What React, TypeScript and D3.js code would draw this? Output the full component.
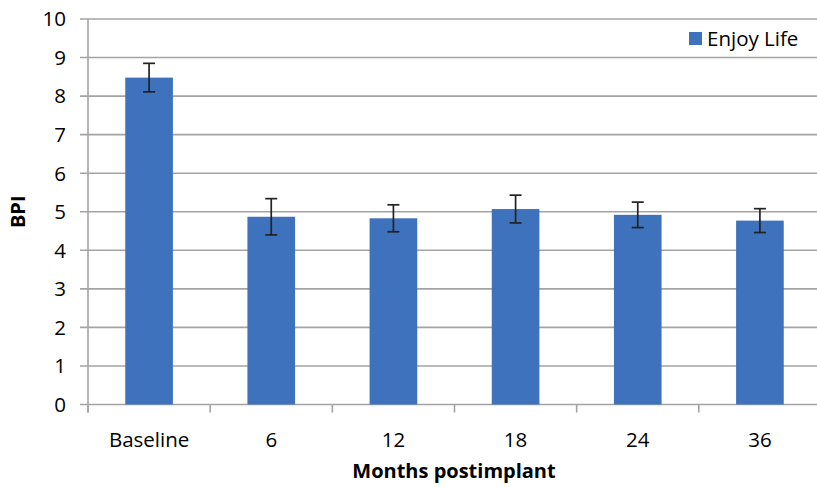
import React from 'react';
import * as d3 from 'd3';

const categories = ['Baseline', '6', '12', '18', '24', '36'];
const values = [8.48, 4.87, 4.83, 5.07, 4.92, 4.77];
const errors = [0.37, 0.47, 0.35, 0.36, 0.33, 0.31];
const yTicks = [0, 1, 2, 3, 4, 5, 6, 7, 8, 9, 10];
const seriesName = 'Enjoy Life';

const width = 817;
const height = 487;
const left = 88;
const right = 821;
const top = 19;
const bottom = 404.5;

const font = '"Open Sans", "Liberation Sans", sans-serif';
const barColor = '#3f72bd';
const gridColor = '#a3a3a3';

export default function App() {
  const x = d3.scaleBand<string>().domain(categories).range([left, right]).paddingInner(0.61).paddingOuter(0.305);
  const step = x.step();
  const y = d3.scaleLinear().domain([0, 10]).range([bottom, top]);

  return (
    <svg width={width} height={height} style={{ position: 'absolute', left: 0, top: 0, background: '#fff' }}>
      {/* gridlines + y ticks */}
      {yTicks.map(t => (
        <g key={t}>
          <line x1={left - 8} x2={width} y1={y(t)} y2={y(t)} stroke={gridColor} strokeWidth={1.6} />
          <text x={66} y={y(t)} dy="0.36em" textAnchor="end" fontFamily={font} fontSize={20.5} fill="#000">
            {t}
          </text>
        </g>
      ))}
      {/* y axis line */}
      <line x1={left} x2={left} y1={top} y2={bottom + 8} stroke={gridColor} strokeWidth={1.6} />
      {/* x ticks between categories */}
      {d3.range(categories.length + 1).map(i => (
        <line key={i} x1={left + i * step} x2={left + i * step} y1={bottom} y2={bottom + 8} stroke={gridColor} strokeWidth={1.6} />
      ))}
      {/* bars */}
      {categories.map((c, i) => (
        <rect key={c} x={x(c)} y={y(values[i])} width={x.bandwidth()} height={bottom - y(values[i])} fill={barColor} />
      ))}
      {/* error bars */}
      {categories.map((c, i) => {
        const cx = (x(c) as number) + x.bandwidth() / 2;
        const y1 = y(values[i] + errors[i]);
        const y2 = y(values[i] - errors[i]);
        return (
          <g key={'e' + c} stroke="#222" strokeWidth={1.7}>
            <line x1={cx} x2={cx} y1={y1} y2={y2} />
            <line x1={cx - 6} x2={cx + 6} y1={y1} y2={y1} />
            <line x1={cx - 6} x2={cx + 6} y1={y2} y2={y2} />
          </g>
        );
      })}
      {/* x labels */}
      {categories.map(c => (
        <text key={'l' + c} x={(x(c) as number) + x.bandwidth() / 2} y={447} textAnchor="middle" fontFamily={font} fontSize={20.5} fill="#000">
          {c}
        </text>
      ))}
      {/* axis titles */}
      <text x={454} y={478} textAnchor="middle" fontFamily={font} fontSize={20} fontWeight="bold" fill="#000">
        Months postimplant
      </text>
      <text transform={`translate(25, ${(top + bottom) / 2}) rotate(-90)`} textAnchor="middle" fontFamily={font} fontSize={20} fontWeight="bold" fill="#000">
        BPI
      </text>
      {/* legend */}
      <rect x={684} y={24} width={130} height={28} fill="#fff" />
      <rect x={689} y={32} width={13} height={13} fill={barColor} />
      <text x={707} y={38.5} dy="0.36em" fontFamily={font} fontSize={20.5} fill="#000">
        {seriesName}
      </text>
    </svg>
  );
}
